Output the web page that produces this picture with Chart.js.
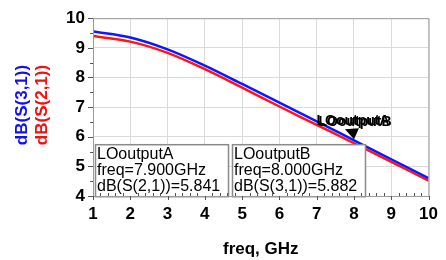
<!DOCTYPE html>
<html>
<head>
<meta charset="utf-8">
<script src="https://cdn.jsdelivr.net/npm/chart.js@4"></script>
<style>
  html, body { margin: 0; padding: 0; background: #fff; }
  #wrap { width: 446px; height: 260px; }
</style>
</head>
<body>
<div id="wrap"><canvas id="chart" width="446" height="260"></canvas></div>
<script>
// freq in GHz
const freqs = [1, 2, 3, 4, 5, 6, 7, 8, 9, 10];
const s31 = [9.55, 9.35, 8.95, 8.40, 7.78, 7.15, 6.52, 5.88, 5.24, 4.60];
const s21 = [9.40, 9.21, 8.83, 8.28, 7.66, 7.02, 6.40, 5.78, 5.15, 4.52];
const xTicks = [1, 2, 3, 4, 5, 6, 7, 8, 9, 10];
const yTicks = [4, 5, 6, 7, 8, 9, 10];

const markerA = { name: 'LOoutputA', freq: 7.9, label: 'dB(S(2,1))', value: 5.841 };
const markerB = { name: 'LOoutputB', freq: 8.0, label: 'dB(S(3,1))', value: 5.882 };

const FAM = '"Liberation Sans", Arial, sans-serif';

// extra drawing: minor ticks, y titles, markers and readout boxes
const extras = {
    id: 'extras',
    afterDraw(chart) {
        const ctx = chart.ctx;
        const x = chart.scales.x, y = chart.scales.y;
        const a = chart.chartArea;
        ctx.save();

        // y titles
        ctx.font = 'bold 17px ' + FAM;
        ctx.textAlign = 'center';
        ctx.textBaseline = 'middle';
        const cy = 105;
        [[22, '#1010f0', 'dB(S(3,1))'], [42, '#f01010', 'dB(S(2,1))']].forEach(([tx, col, txt]) => {
            ctx.save();
            ctx.translate(tx, cy);
            ctx.rotate(-Math.PI / 2);
            ctx.fillStyle = col;
            ctx.fillText(txt, 0, 0);
            ctx.restore();
        });

        // marker triangle at B
        const mx = x.getPixelForValue(markerB.freq);
        const my = y.getPixelForValue(markerB.value);
        ctx.fillStyle = '#000';
        ctx.beginPath();
        ctx.moveTo(mx, my - 1);
        ctx.lineTo(mx - 9, my - 11);
        ctx.lineTo(mx + 5, my - 12);
        ctx.closePath();
        ctx.fill();

        // overlapping marker names
        ctx.font = 'bold 14px ' + FAM;
        ctx.textAlign = 'center';
        ctx.fillText(markerA.name, mx - 1, my - 19);
        ctx.fillText(markerB.name, mx + 1, my - 18);

        // readout boxes
        const boxes = [
            [a.left + 2, markerA],
            [a.left + 139, markerB]
        ];
        ctx.font = '16px ' + FAM;
        ctx.textAlign = 'left';
        ctx.textBaseline = 'middle';
        boxes.forEach(([bx, m]) => {
            const by = a.top + 126, bw = 133, bh = 52;
            ctx.fillStyle = '#fff';
            ctx.fillRect(bx, by, bw, bh);
            ctx.strokeStyle = '#8a8a8a';
            ctx.lineWidth = 1.5;
            ctx.strokeRect(bx + 0.5, by + 0.5, bw, bh);
            ctx.fillStyle = '#000';
            ctx.fillText(m.name, bx + 2, by + 10);
            ctx.fillText('freq=' + m.freq.toFixed(3) + 'GHz', bx + 2, by + 26);
            ctx.fillText(m.label + '=' + m.value.toFixed(3), bx + 2, by + 42);
        });

        // border
        ctx.strokeStyle = '#9a9a9a';
        ctx.lineWidth = 1;
        ctx.strokeRect(a.left + 0.5, a.top + 0.5, a.right - a.left, a.bottom - a.top);

        // ticks
        ctx.strokeStyle = '#555';
        ctx.beginPath();
        for (let v = 1; v <= 10.001; v += 0.2) {
            const px = Math.round(x.getPixelForValue(v)) + 0.5;
            const major = Math.abs(v - Math.round(v)) < 0.01;
            ctx.moveTo(px, a.bottom);
            ctx.lineTo(px, major ? a.bottom + 4 : a.bottom - 3);
        }
        for (let v = 4; v <= 10.001; v += 0.5) {
            const py = Math.round(y.getPixelForValue(v)) + 0.5;
            const major = Math.abs(v - Math.round(v)) < 0.01;
            ctx.moveTo(a.left - (major ? 5 : 3), py);
            ctx.lineTo(a.left, py);
        }
        ctx.stroke();

        ctx.restore();
    }
};

new Chart(document.getElementById('chart'), {
    type: 'line',
    data: {
        labels: freqs,
        datasets: [
            {
                label: 'dB(S(3,1))',
                data: freqs.map((f, i) => ({ x: f, y: s31[i] })),
                borderColor: '#1414ff',
                borderWidth: 2.5,
                pointRadius: 0,
                cubicInterpolationMode: 'monotone'
            },
            {
                label: 'dB(S(2,1))',
                data: freqs.map((f, i) => ({ x: f, y: s21[i] })),
                borderColor: '#ff1414',
                borderWidth: 2.5,
                pointRadius: 0,
                cubicInterpolationMode: 'monotone'
            }
        ]
    },
    options: {
        responsive: false,
        animation: false,
        layout: { padding: { left: 0, right: 15, top: 16, bottom: 0 } },
        plugins: {
            legend: { display: false },
            tooltip: { enabled: false }
        },
        scales: {
            x: {
                type: 'linear',
                min: 1, max: 10,
                afterBuildTicks: s => { s.ticks = xTicks.map(v => ({ value: v })); },
                afterFit: s => { s.height = 64; },
                grid: { color: '#dadada', drawTicks: false },
                border: { display: false },
                ticks: { color: '#000', font: { family: FAM, size: 17, weight: 'bold' }, padding: 8, maxRotation: 0 },
                title: { display: true, text: 'freq, GHz', color: '#000', font: { family: FAM, size: 17, weight: 'bold' }, padding: { top: 3, bottom: 0 } }
            },
            y: {
                min: 4, max: 10,
                afterBuildTicks: s => { s.ticks = yTicks.map(v => ({ value: v })); },
                afterFit: s => { s.width = 93; },
                grid: { color: '#dadada', drawTicks: false },
                border: { display: false },
                ticks: { color: '#000', font: { family: FAM, size: 17, weight: 'bold' }, padding: 8 }
            }
        }
    },
    plugins: [extras]
});
</script>
</body>
</html>
